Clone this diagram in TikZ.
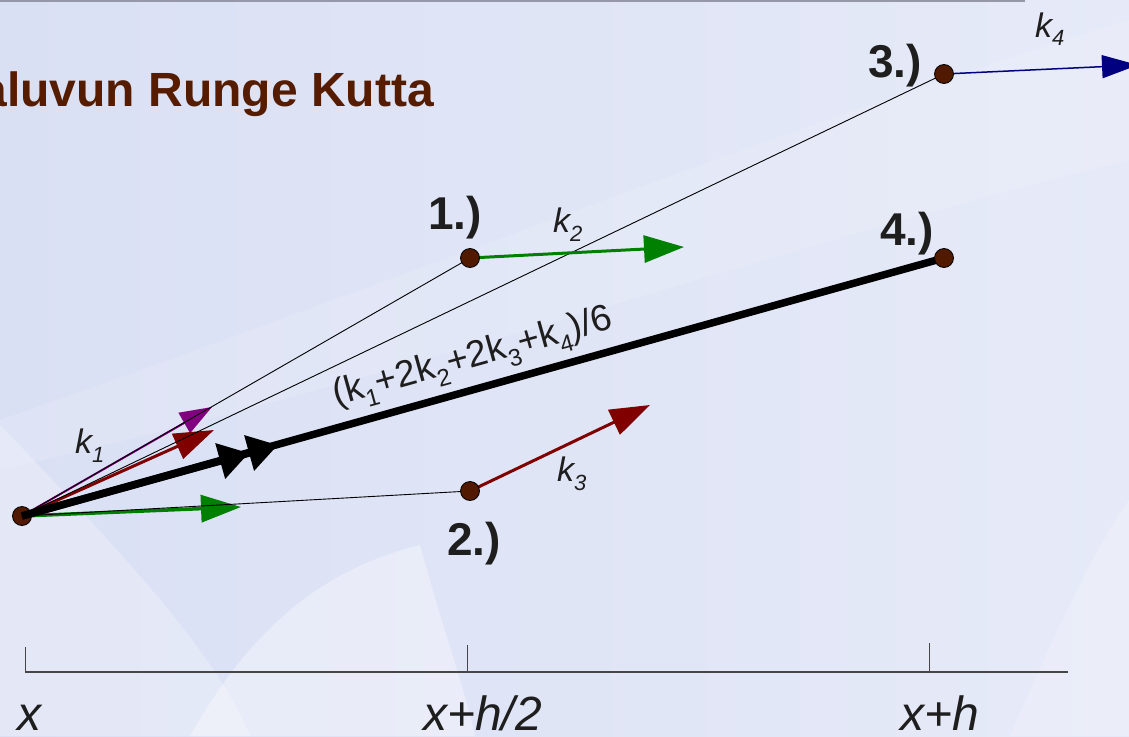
\documentclass[tikz,border=0pt]{standalone}
\usepackage{fontspec}
\setmainfont{Liberation Sans}
\usetikzlibrary{arrows.meta}
\pgfdeclarelayer{fg}
\pgfsetlayers{main,fg}
\definecolor{bgl}{RGB}{218,224,244}
\definecolor{bgr}{RGB}{230,234,248}
\definecolor{dotc}{RGB}{80,25,0}
\definecolor{titlec}{RGB}{85,28,0}
\definecolor{kgreen}{RGB}{0,128,0}
\definecolor{kred}{RGB}{128,0,0}
\definecolor{kpurple}{RGB}{128,0,128}
\definecolor{knavy}{RGB}{0,0,128}
\definecolor{axisc}{RGB}{70,70,70}
\definecolor{textc}{RGB}{30,30,30}
\definecolor{topc}{RGB}{150,152,170}
\newcommand\ksb[1]{\raisebox{-9pt}{\fontsize{22}{22}\selectfont #1}}
\newcommand\ksbb[1]{\raisebox{-10pt}{\fontsize{24}{24}\selectfont #1}}
\begin{document}
\begin{tikzpicture}[x=1pt,y=-1pt,
  dot/.style={circle,fill=dotc,draw=black,line width=0.8pt,inner sep=0pt,minimum size=19pt},
  thinblack/.style={black,line width=0.9pt},
  numlab/.style={font=\fontsize{46}{46}\selectfont\bfseries,text=textc,inner sep=0pt,anchor=base west},
  klab/.style={font=\fontsize{34}{34}\selectfont\itshape,text=textc,inner sep=0pt,anchor=base west},
  axlab/.style={font=\fontsize{48}{48}\selectfont\itshape,text=textc,inner sep=0pt,anchor=base west},
  bigtip/.style={-{Triangle[length=40pt,width=27pt]}},
]
\useasboundingbox (0,0) rectangle (1129,736);
% background
\shade[left color=bgl,right color=bgr] (0,0) rectangle (1129,736);
\fill[white,opacity=0.25] (0,425) .. controls (130,560) and (220,660) .. (250,736) -- (0,736) -- cycle;
\fill[white,opacity=0.35] (190,736) .. controls (250,630) and (320,570) .. (420,545) .. controls (440,620) and (465,690) .. (475,736) -- cycle;
\fill[white,opacity=0.12] (0,420) .. controls (400,280) and (800,120) .. (1129,20) -- (1129,160) .. controls (800,240) and (400,380) .. (0,470) -- cycle;
\fill[white,opacity=0.2] (1010,736) .. controls (1060,620) and (1100,540) .. (1129,500) -- (1129,736) -- cycle;
\draw[topc,line width=2pt] (0,1) -- (1025,1);
% title
\node[anchor=base east,font=\fontsize{48}{48}\selectfont\bfseries,text=titlec,inner sep=0pt] (title) at (434,106) {aluvun Runge Kutta};
% points
\node[dot] (O) at (22,516) {};
\begin{pgfonlayer}{fg}
\node[dot] (P1) at (470,258) {};
\node[dot] (P2) at (470,491) {};
\node[dot] (P3) at (944,74) {};
\node[dot] (P4) at (944,258) {};
\end{pgfonlayer}
% free ends
\coordinate (k1p) at (212,407);
\coordinate (k1r) at (214,430);
\coordinate (k1g) at (241,507);
\coordinate (dbl) at (278,445);
\coordinate (k2e) at (684,247);
\coordinate (k3e) at (650,405);
\coordinate (k4e) at (1138,65);
% coloured arrows
\draw[kpurple,line width=2pt,-{Triangle[length=32pt,width=23pt]}] (O.center) -- (k1p);
\draw[kred,line width=3pt,bigtip] (O.center) -- (k1r);
\draw[kgreen,line width=3.5pt,bigtip] (O.center) -- (k1g);
% mean slope
\draw[black,line width=7.5pt] (O.center) -- (P4.center);
\draw[black,line width=7.5pt,-{Triangle[length=30pt,width=35pt] Triangle[length=30pt,width=35pt]}] (O.center) -- (dbl);
% thin construction lines
\draw[thinblack] (O.center) -- (P1.center);
\draw[thinblack] (O.center) -- (P3.center);
\draw[thinblack] (O.center) -- (P2.center);
% slopes at intermediate points
\draw[kgreen,line width=3pt,bigtip] (P1.center) -- (k2e);
\draw[kred,line width=3pt,bigtip] (P2.center) -- (k3e);
\draw[knavy,line width=1.5pt,-{Triangle[length=36pt,width=23pt]}] (P3.center) -- (k4e);
% labels
\node[numlab] (l1) at (428,229) {1.)};
\node[numlab] (l2) at (447,555) {2.)};
\node[numlab] (l3) at (868,77) {3.)};
\node[numlab] (l4) at (880,245) {4.)};
\node[klab] (k1) at (75,453) {k\ksb{1}};
\node[klab] (k2) at (553,232) {k\ksb{2}};
\node[klab] (k3) at (557,481) {k\ksb{3}};
\node[klab] (k4) at (1035,37) {k\ksb{4}};
\node[anchor=base west,rotate=15.6,font=\fontsize{37}{37}\selectfont,text=textc,inner sep=0pt] (sum) at (336,406) {(k\ksbb{1}+2k\ksbb{2}+2k\ksbb{3}+k\ksbb{4})/6};
% axis
\coordinate (a0) at (25,672);
\coordinate (a1) at (467,672);
\coordinate (a2) at (929,672);
\coordinate (aend) at (1068,672);
\draw[axisc,line width=2pt] (a0) -- (aend);
\draw[axisc,line width=1pt] (a0) -- ++(0,-25);
\draw[axisc,line width=1pt] (a1) -- ++(0,-27);
\draw[axisc,line width=1pt] (a2) -- ++(0,-29);
\node[axlab] (x0) at (17,730) {x};
\node[axlab] (x1) at (423,730) {x+h/2};
\node[axlab] (x2) at (900,730) {x+h};
\end{tikzpicture}
\end{document}
